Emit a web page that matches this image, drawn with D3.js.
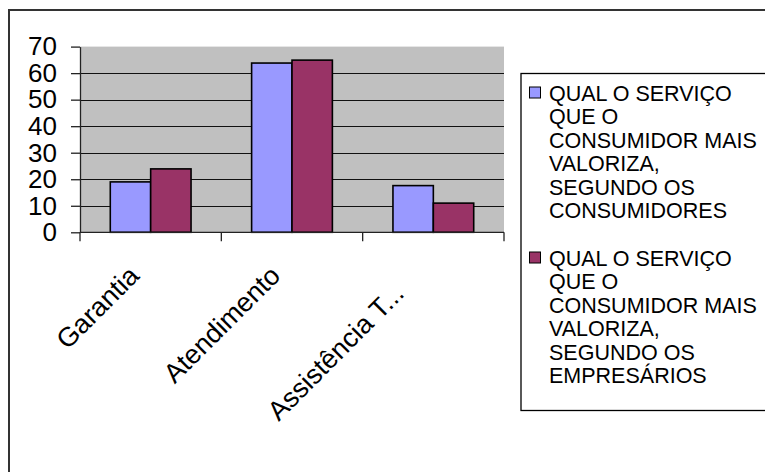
<!DOCTYPE html>
<html><head><meta charset="utf-8">
<script src="https://cdn.jsdelivr.net/npm/d3@7"></script>
<style>body{margin:0;background:#fff}svg{display:block}text{font-family:"Liberation Sans",Arial,sans-serif;fill:#000}</style>
</head><body>
<script>
const categories = ["Garantia", "Atendimento", "Assistência T..."];
const seriesNames = ["QUAL O SERVIÇO QUE O CONSUMIDOR MAIS VALORIZA, SEGUNDO OS CONSUMIDORES",
                     "QUAL O SERVIÇO QUE O CONSUMIDOR MAIS VALORIZA, SEGUNDO OS EMPRESÁRIOS"];
const legendLines = [["QUAL O SERVIÇO","QUE O","CONSUMIDOR MAIS","VALORIZA,","SEGUNDO OS","CONSUMIDORES"],
                     ["QUAL O SERVIÇO","QUE O","CONSUMIDOR MAIS","VALORIZA,","SEGUNDO OS","EMPRESÁRIOS"]];
const consumidores = [19, 63.8, 17.6];
const empresarios = [23.9, 64.9, 11];
const yTicks = [0, 10, 20, 30, 40, 50, 60, 70];
const colors = ["#9999FF", "#993366"];
// layout only: shift of each rotated label along its baseline
const labelShift = [0, 0, -25];

const W = 765, H = 472;
const svg = d3.select("body").append("svg").attr("width", W).attr("height", H);

// outer frame
svg.append("rect").attr("x", 9).attr("y", 10).attr("width", 800).attr("height", 500)
  .attr("fill", "#fff").attr("stroke", "#333").attr("stroke-width", 2);

const pLeft = 80, pRight = 504, pTop = 46.6, pBottom = 232.3;
const x = d3.scaleBand().domain(categories).range([pLeft, pRight]);
const y = d3.scaleLinear().domain([0, 70]).range([pBottom, pTop]);
const xs = d3.scaleBand().domain([0, 1]).range([0, x.bandwidth()]).paddingInner(0).paddingOuter(0.75);

svg.append("rect").attr("x", pLeft).attr("y", pTop).attr("width", pRight - pLeft).attr("height", pBottom - pTop)
  .attr("fill", "#C0C0C0");

// gridlines
svg.append("g").selectAll("line").data(yTicks.filter(d => d > 0 && d < 70)).join("line")
  .attr("x1", pLeft).attr("x2", pRight).attr("y1", d => Math.round(y(d)) + 0.5).attr("y2", d => Math.round(y(d)) + 0.5)
  .attr("stroke", "#111").attr("stroke-width", 1);

// bars
const data = categories.map((c, i) => ({c, v: [consumidores[i], empresarios[i]]}));
const g = svg.append("g").selectAll("g").data(data).join("g")
  .attr("transform", d => `translate(${x(d.c)},0)`);
g.selectAll("rect").data(d => d.v.map((v, k) => ({v, k}))).join("rect")
  .attr("x", d => xs(d.k)).attr("width", xs.bandwidth())
  .attr("y", d => y(d.v)).attr("height", d => y(0) - y(d.v))
  .attr("fill", d => colors[d.k]).attr("stroke", "#000").attr("stroke-width", 1.6);

// y axis
const yAxis = d3.axisLeft(y).tickValues(yTicks).tickSize(9).tickPadding(14).tickSizeOuter(0);
const ya = svg.append("g").attr("transform", `translate(${pLeft},0)`).call(yAxis);
ya.selectAll("path,line").attr("stroke", "#222").attr("stroke-width", 1.3);
ya.selectAll("text").attr("font-size", 26).attr("font-family", '"Liberation Sans",Arial,sans-serif').attr("fill", "#000");

// x axis
const xa = svg.append("g");
xa.append("line").attr("x1", pLeft).attr("x2", pRight).attr("y1", pBottom).attr("y2", pBottom).attr("stroke", "#222").attr("stroke-width", 1.3);
const edges = [pLeft, ...categories.map(c => x(c) + x.bandwidth())];
xa.selectAll("line.t").data(edges).join("line").attr("class", "t")
  .attr("x1", d => d).attr("x2", d => d).attr("y1", pBottom).attr("y2", pBottom + 9)
  .attr("stroke", "#222").attr("stroke-width", 1.3);
xa.selectAll("text").data(categories).join("text")
  .attr("transform", d => `translate(${x(d) + x.bandwidth() / 2 - 10},${pBottom + 45}) rotate(-45)`)
  .attr("dx", (d, i) => labelShift[i])
  .attr("text-anchor", "end").attr("font-size", 27).text(d => d);

// legend
const lg = svg.append("g");
lg.append("rect").attr("x", 521).attr("y", 73.5).attr("width", 300).attr("height", 337)
  .attr("fill", "#fff").attr("stroke", "#000").attr("stroke-width", 1.3);
const lineH = 23.4;
legendLines.forEach((lines, k) => {
  const y0 = 101 + k * 165;
  lg.append("rect").attr("x", 529.5).attr("y", y0 - 14).attr("width", 11).attr("height", 11)
    .attr("fill", colors[k]).attr("stroke", "#000").attr("stroke-width", 1);
  lg.append("text").attr("font-size", 21.5)
    .selectAll("tspan").data(lines).join("tspan")
    .attr("x", 549).attr("y", (d, i) => y0 + i * lineH).text(d => d);
});
</script>
</body></html>
